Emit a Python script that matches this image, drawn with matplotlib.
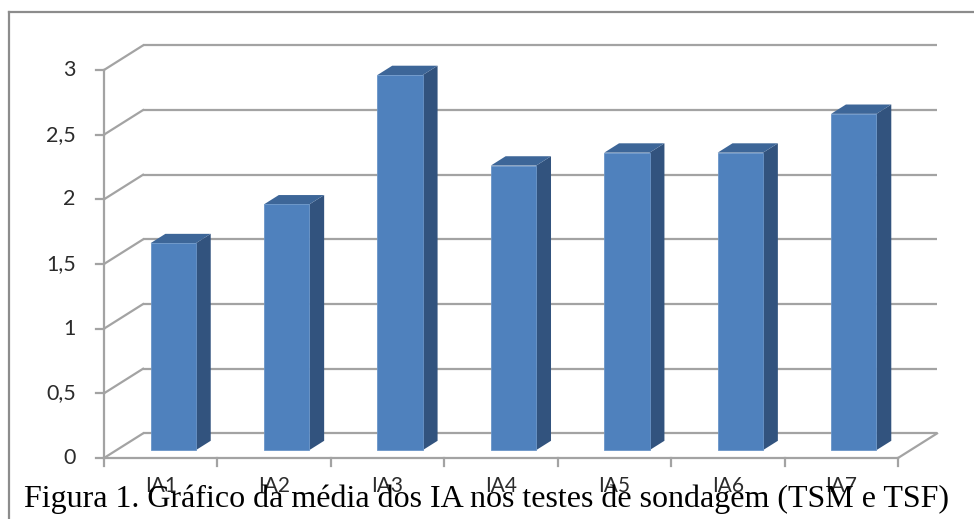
import numpy as np
import matplotlib.pyplot as plt
from matplotlib.patches import Polygon
from matplotlib.lines import Line2D

# average IA scores
categories = ['IA1', 'IA2', 'IA3', 'IA4', 'IA5', 'IA6', 'IA7']
values = [1.6, 1.9, 2.9, 2.2, 2.3, 2.3, 2.6]
yticks = [0, 0.5, 1, 1.5, 2, 2.5, 3]
ytick_labels = ['0', '0,5', '1', '1,5', '2', '2,5', '3']
caption = 'Figura 1. Gráfico da média dos IA nos testes de sondagem (TSM e TSF)'

# pseudo-3D look: depth vector in data units and bar placement
DX, DY = 0.344, 0.19
F0, F1 = 0.32, 0.70
BAR_W = 0.40

FRONT = '#4F81BD'
SIDE = '#32537E'
TOP = '#3D6698'
GRID = '#A3A3A3'
TEXT = '#2b2b2b'

plt.rcParams['font.family'] = ['Lato', 'DejaVu Sans']

fig = plt.figure(figsize=(9.74, 5.19), dpi=100)
ax = fig.add_axes([0, 0, 1, 1])
ax.set_xlim(-0.917, 7.670)
ax.set_ylim(-0.4717, 3.541)
ax.axis('off')


def proj(x, v, f):
    return (x + f * DX, v + f * DY)


n = len(categories)
ymax = yticks[-1]

# back wall gridlines and left wall diagonals
for t in yticks:
    x0, y0 = proj(0, t, 1)
    x1, y1 = proj(n, t, 1)
    ax.plot([x0, x1], [y0, y1], color=GRID, lw=1.6, solid_capstyle='butt', zorder=1)
    ax.plot([0, x0], [t, y0], color=GRID, lw=1.6, zorder=1)

# floor: front edge and right edge
ax.plot([0, n], [0, 0], color=GRID, lw=1.6, zorder=1)
bx, by = proj(n, 0, 1)
ax.plot([n, bx], [0, by], color=GRID, lw=1.6, zorder=1)

# value axis line and ticks
ax.plot([0, 0], [0, ymax], color=GRID, lw=1.6, zorder=1)
for t, lab in zip(yticks, ytick_labels):
    ax.plot([-0.07, 0], [t, t], color=GRID, lw=1.6, zorder=1)
    ax.text(-0.25, t, lab, ha='right', va='center', fontsize=15.5, color=TEXT)

# category ticks and labels
for k in range(n + 1):
    ax.plot([k, k], [0, -0.062], color=GRID, lw=1.6, zorder=1)
for i, lab in enumerate(categories):
    ax.text(i + 0.5, -0.22, lab, ha='center', va='center', fontsize=15, color=TEXT)

# columns
for i, v in enumerate(values):
    xa = i + 0.5 - BAR_W / 2
    xb = i + 0.5 + BAR_W / 2
    front = [proj(xa, 0, F0), proj(xb, 0, F0), proj(xb, v, F0), proj(xa, v, F0)]
    side = [proj(xb, 0, F0), proj(xb, 0, F1), proj(xb, v, F1), proj(xb, v, F0)]
    top = [proj(xa, v, F0), proj(xb, v, F0), proj(xb, v, F1), proj(xa, v, F1)]
    ax.add_patch(Polygon(side, closed=True, fc=SIDE, ec='none', zorder=3))
    ax.add_patch(Polygon(top, closed=True, fc=TOP, ec='none', zorder=3))
    ax.add_patch(Polygon(front, closed=True, fc=FRONT, ec='#6A95C8', lw=0.6, zorder=4))

# chart frame
fig.add_artist(Line2D([0.0095, 0.0095], [0, 1 - 12 / 519], transform=fig.transFigure,
                      color='#8C8C8C', lw=1.6))
fig.add_artist(Line2D([0.0095, 1], [1 - 12 / 519, 1 - 12 / 519], transform=fig.transFigure,
                      color='#8C8C8C', lw=1.6))

fig.text(0.5, 0.01, caption, ha='center', va='bottom', fontsize=23,
         family='Liberation Serif', color='black')

fig.savefig('out.png', dpi=100)
